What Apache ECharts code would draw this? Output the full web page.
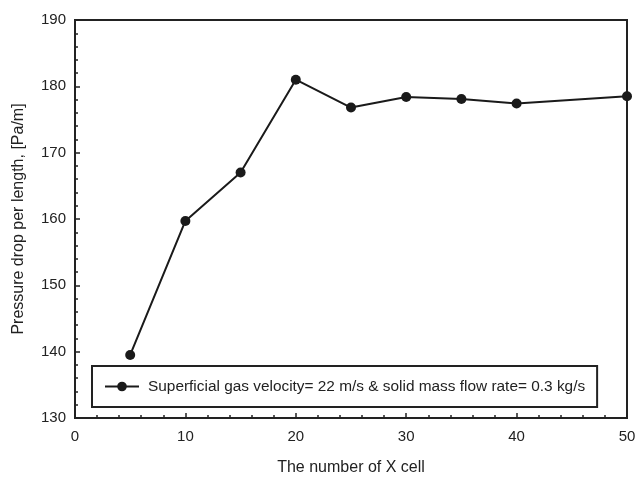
<!DOCTYPE html>
<html><head><meta charset="utf-8">
<script src="https://cdn.jsdelivr.net/npm/echarts@6/dist/echarts.min.js"></script>
<style>html,body{margin:0;padding:0;background:#fff}#c{width:637px;height:478px}</style>
</head><body><div id="c"></div>
<script>
const xCells = [5, 10, 15, 20, 25, 30, 35, 40, 50];
const pressureDrop = [139.5, 159.7, 167.0, 181.0, 176.8, 178.4, 178.1, 177.4, 178.5];
const seriesName = 'Superficial gas velocity= 22 m/s & solid mass flow rate= 0.3 kg/s';
const xTitle = 'The number of X cell';
const yTitle = 'Pressure drop per length, [Pa/m]';

const font = 'Liberation Sans, Arial, sans-serif';
const dark = '#222';
const chart = echarts.init(document.getElementById('c'));
chart.setOption({
  animation: false,
  grid: {left: 75, right: 10, top: 20, bottom: 60, outerBoundsMode: 'none', containLabel: false,
         show: true, borderColor: dark, borderWidth: 2, backgroundColor: 'transparent'},
  legend: {
    data: [seriesName], left: 92, top: 366,
    borderColor: dark, borderWidth: 2, borderRadius: 0,
    padding: [13, 12, 13, 12],
    itemWidth: 34, itemHeight: 12,
    textStyle: {fontFamily: font, fontSize: 15.4, color: dark, padding: [0, 0, 0, 4]}
  },
  xAxis: {
    type: 'value', min: 0, max: 50, interval: 10,
    name: xTitle, nameLocation: 'middle', nameGap: 42,
    nameTextStyle: {fontFamily: font, fontSize: 16, color: dark},
    axisLine: {show: true, lineStyle: {color: dark, width: 2}},
    axisTick: {show: true, inside: true, length: 5, lineStyle: {color: dark, width: 1.5}},
    minorTick: {show: true, splitNumber: 5, length: 3, lineStyle: {color: dark, width: 1.5}},
    splitLine: {show: false},
    axisLabel: {fontFamily: font, fontSize: 15, color: dark, margin: 11}
  },
  yAxis: {
    type: 'value', min: 130, max: 190, interval: 10,
    name: yTitle, nameLocation: 'middle', nameGap: 48,
    nameTextStyle: {fontFamily: font, fontSize: 16, color: dark},
    axisLine: {show: true, lineStyle: {color: dark, width: 2}},
    axisTick: {show: true, inside: true, length: 5, lineStyle: {color: dark, width: 1.5}},
    minorTick: {show: true, splitNumber: 5, length: 3, lineStyle: {color: dark, width: 1.5}},
    splitLine: {show: false},
    axisLabel: {fontFamily: font, fontSize: 15, color: dark, margin: 9}
  },
  series: [{
    name: seriesName, type: 'line',
    data: xCells.map((x, i) => [x, pressureDrop[i]]),
    symbol: 'circle', symbolSize: 10, clip: false,
    itemStyle: {color: '#1a1a1a'},
    lineStyle: {color: '#1a1a1a', width: 2}
  }]
});
</script></body></html>
